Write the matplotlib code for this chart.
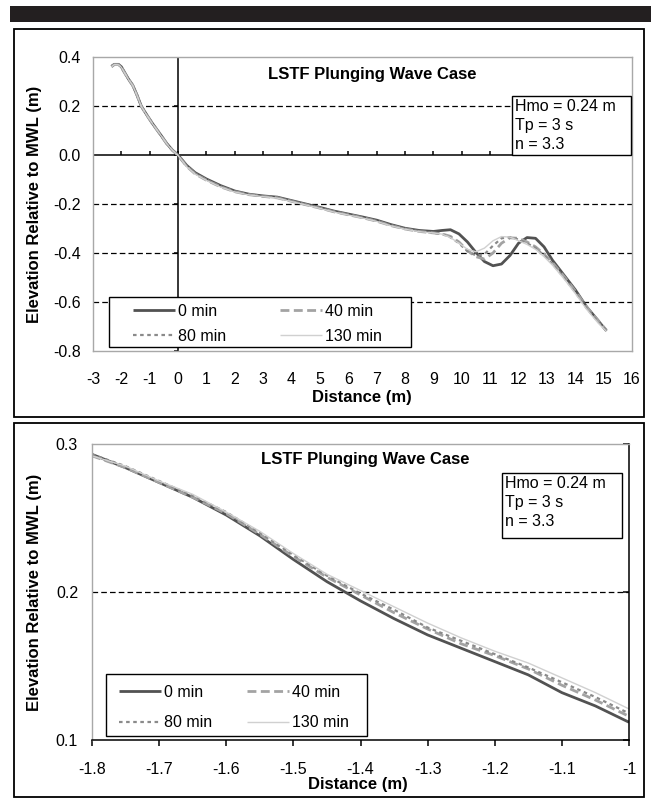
import numpy as np
import matplotlib
matplotlib.use("Agg")
from matplotlib import pyplot as plt
from matplotlib.patches import Rectangle

plt.rcParams['font.family'] = ['Liberation Sans', 'DejaVu Sans']

# --------- DATA ---------

series_names = ['0 min', '40 min', '80 min', '130 min']
series_colors = ['#525252', '#a3a3a3', '#8a8a8a', '#d0d0d0']
series_widths = [2.0, 2.0, 1.6, 1.0]
series_styles = ['-', (0, (3.2, 1.6)), (0, (1.6, 1.6)), '-']

# Full profile (top panel)
dist_full = [-2.35, -2.25, -2.1, -2.0, -1.9, -1.75, -1.6, -1.45, -1.3, -1.1, -0.9, -0.6, -0.4, -0.2,
             0.0, 0.3, 0.6, 1.0, 1.5, 2.0, 2.5, 3.0, 3.5, 4.0, 4.5, 5.0, 5.5, 6.0, 6.5, 7.0, 7.5,
             8.0, 8.5, 9.0, 9.3, 9.6, 9.9, 10.2, 10.5, 10.8, 11.1, 11.4, 11.7, 12.0, 12.3, 12.6,
             12.9, 13.2, 13.6, 14.0, 14.4, 14.8, 15.1]
elev_0 = [0.362, 0.370, 0.370, 0.360, 0.340, 0.310, 0.285, 0.245, 0.200, 0.163, 0.128, 0.080, 0.047, 0.020,
          0.000, -0.042, -0.072, -0.098, -0.125, -0.147, -0.160, -0.167, -0.172, -0.186, -0.200, -0.214, -0.229, -0.241, -0.253, -0.266, -0.284,
          -0.299, -0.308, -0.312, -0.308, -0.305, -0.322, -0.355, -0.398, -0.435, -0.452, -0.445, -0.410, -0.360, -0.337, -0.340,
          -0.375, -0.430, -0.490, -0.550, -0.620, -0.675, -0.718]
elev_40 = [0.360, 0.369, 0.369, 0.358, 0.338, 0.309, 0.284, 0.244, 0.199, 0.162, 0.127, 0.079, 0.046, 0.019,
           -0.002, -0.046, -0.077, -0.103, -0.130, -0.150, -0.162, -0.169, -0.175, -0.189, -0.203, -0.217, -0.232, -0.244, -0.256, -0.270, -0.288,
           -0.302, -0.312, -0.318, -0.322, -0.332, -0.355, -0.390, -0.415, -0.425, -0.400, -0.360, -0.338, -0.340, -0.355, -0.375,
           -0.405, -0.440, -0.495, -0.555, -0.620, -0.675, -0.715]
elev_80 = [0.361, 0.370, 0.369, 0.359, 0.339, 0.310, 0.285, 0.245, 0.200, 0.163, 0.128, 0.080, 0.047, 0.020,
           -0.001, -0.044, -0.075, -0.101, -0.128, -0.149, -0.161, -0.168, -0.174, -0.188, -0.202, -0.216, -0.231, -0.243, -0.255, -0.269, -0.287,
           -0.301, -0.311, -0.318, -0.322, -0.336, -0.360, -0.393, -0.410, -0.405, -0.370, -0.340, -0.335, -0.345, -0.360, -0.380,
           -0.410, -0.445, -0.500, -0.560, -0.625, -0.680, -0.716]
elev_130 = [0.360, 0.369, 0.368, 0.358, 0.338, 0.309, 0.284, 0.244, 0.199, 0.162, 0.127, 0.079, 0.046, 0.019,
            -0.002, -0.047, -0.078, -0.104, -0.131, -0.151, -0.163, -0.170, -0.176, -0.190, -0.204, -0.218, -0.233, -0.245, -0.257, -0.271, -0.289,
            -0.303, -0.313, -0.318, -0.323, -0.337, -0.360, -0.385, -0.395, -0.380, -0.350, -0.333, -0.335, -0.350, -0.365, -0.385,
            -0.415, -0.450, -0.505, -0.565, -0.630, -0.685, -0.720]

# Close-up (bottom panel)
dist_zoom = [-1.8, -1.75, -1.7, -1.65, -1.6, -1.55, -1.5, -1.45, -1.4, -1.35, -1.3, -1.25, -1.2, -1.15, -1.1, -1.05, -1.0]
zoom_0 = [0.293, 0.284, 0.274, 0.264, 0.252, 0.238, 0.222, 0.207, 0.194, 0.182, 0.171, 0.162, 0.153, 0.144, 0.132, 0.123, 0.112]
zoom_40 = [0.292, 0.284, 0.274, 0.264, 0.253, 0.239, 0.224, 0.210, 0.198, 0.186, 0.175, 0.165, 0.157, 0.148, 0.137, 0.127, 0.116]
zoom_80 = [0.293, 0.285, 0.275, 0.265, 0.254, 0.240, 0.225, 0.211, 0.199, 0.188, 0.176, 0.167, 0.158, 0.149, 0.139, 0.129, 0.118]
zoom_130 = [0.292, 0.285, 0.275, 0.266, 0.254, 0.241, 0.226, 0.212, 0.201, 0.190, 0.179, 0.169, 0.160, 0.152, 0.142, 0.132, 0.121]

full_ticks_x = list(range(-3, 17))
full_ticks_y = [-0.8, -0.6, -0.4, -0.2, 0.0, 0.2, 0.4]
zoom_ticks_x = [-1.8, -1.7, -1.6, -1.5, -1.4, -1.3, -1.2, -1.1, -1.0]
zoom_ticks_y = [0.1, 0.2, 0.3]

title = "LSTF Plunging Wave Case"
info = "Hmo = 0.24 m\nTp = 3 s\nn = 3.3"

# --------- FIGURE ---------

W, H = 651, 800
fig = plt.figure(figsize=(W / 100, H / 100), dpi=100)

def fx(px):
    return px / W

def fy(py):
    return 1 - py / H

def frect(x0, y0, x1, y1, ax=None, **kw):
    r = Rectangle((fx(x0), fy(y1)), fx(x1) - fx(x0), fy(y0) - fy(y1), transform=fig.transFigure,
                  clip_on=False, **kw)
    if ax is None:
        fig.patches.append(r)
    else:
        ax.add_patch(r)
    return r

# header bar and panel frames
frect(10, 6, 651, 22, facecolor='#231f20', edgecolor='none')
frect(14, 29, 644, 417, fill=False, edgecolor='black', lw=1.3)
frect(14, 423, 644, 797, fill=False, edgecolor='black', lw=1.3)

grid_kw = dict(color='black', lw=0.9, ls=(0, (4.5, 2.5)))
gray = '#a8a8a8'
FS = 11.5

def draw_series(ax, x, ys):
    lines = []
    for y, name, c, lw, ls in zip(ys, series_names, series_colors, series_widths, series_styles):
        ln, = ax.plot(x, y, color=c, lw=lw, ls=ls, label=name, solid_capstyle='butt')
        lines.append(ln)
    return lines

def add_legend(ax, lines, px, py, colsp, labsp):
    order = [0, 2, 1, 3]
    leg = ax.legend([lines[i] for i in order], [series_names[i] for i in order], ncol=2, frameon=False,
                    loc='upper left', bbox_to_anchor=(fx(px), fy(py)), bbox_transform=fig.transFigure,
                    borderpad=0, borderaxespad=0, fontsize=FS, handlelength=2.6, handletextpad=0.2,
                    columnspacing=colsp, labelspacing=labsp)
    leg.set_zorder(6)
    return leg

# --------- TOP PANEL ---------
ax1 = fig.add_axes([fx(93), fy(351), fx(632) - fx(93), fy(57) - fy(351)])
ax1.set_xlim(-3, 16)
ax1.set_ylim(-0.8, 0.4)
for y in [0.2, -0.2, -0.4, -0.6]:
    ax1.axhline(y, **grid_kw)
ax1.axhline(0, color='black', lw=1.1)
ax1.axvline(0, color='black', lw=1.1)
ax1.vlines(full_ticks_x, 0, 0.018, color='black', lw=1.1)
ax1.hlines(full_ticks_y, -0.15, 0, color='black', lw=1.1)
lines1 = draw_series(ax1, dist_full, [elev_0, elev_40, elev_80, elev_130])
ax1.set_xticks(full_ticks_x)
ax1.set_xticklabels([str(t) for t in full_ticks_x])
ax1.set_yticks(full_ticks_y)
ax1.set_yticklabels(['%.1f' % t for t in full_ticks_y])
ax1.tick_params(length=0, labelsize=FS)
ax1.tick_params(axis='x', pad=15)
ax1.tick_params(axis='y', pad=9)
for s in ax1.spines.values():
    s.set_color(gray)
    s.set_linewidth(1.0)
ax1.text(0.518, 0.94, title, transform=ax1.transAxes, ha='center', va='center', fontsize=12, fontweight='bold')
add_legend(ax1, lines1, 133, 304, 3.4, 0.6)
frect(109, 297, 411, 347, ax=ax1, facecolor='white', edgecolor='black', lw=1.0, zorder=5.5)
frect(512, 96, 631, 155, ax=ax1, facecolor='white', edgecolor='black', lw=1.0, zorder=5.5)
fig.text(fx(515), fy(99), info, ha='left', va='top', fontsize=FS, linespacing=1.32, zorder=6)
fig.text(fx(362), fy(397), "Distance (m)", ha='center', va='center', fontsize=12, fontweight='bold')
fig.text(fx(35), fy(204), "Elevation Relative to MWL (m)", ha='center', va='center', rotation=90,
         fontsize=12, fontweight='bold')

# --------- BOTTOM PANEL ---------
ax2 = fig.add_axes([fx(92), fy(740), fx(629) - fx(92), fy(444) - fy(740)])
ax2.set_xlim(-1.8, -1.0)
ax2.set_ylim(0.1, 0.3)
ax2.axhline(0.2, **grid_kw)
lines2 = draw_series(ax2, dist_zoom, [zoom_0, zoom_40, zoom_80, zoom_130])
ax2.set_xticks(zoom_ticks_x)
ax2.set_xticklabels(['-1' if t == -1.0 else '%.1f' % t for t in zoom_ticks_x])
ax2.set_yticks(zoom_ticks_y)
ax2.set_yticklabels(['%.1f' % t for t in zoom_ticks_y])
ax2.tick_params(axis='x', direction='out', length=4, width=1.1, color='black', labelsize=FS, pad=12)
ax2.tick_params(axis='y', left=False, right=True, labelleft=True, labelright=False, direction='in',
                length=4, width=1.1, color='black', labelsize=FS, pad=10)
for name, s in ax2.spines.items():
    if name in ('bottom', 'right'):
        s.set_color('black')
        s.set_linewidth(1.1)
    else:
        s.set_color(gray)
        s.set_linewidth(1.0)
ax2.text(0.508, 0.947, title, transform=ax2.transAxes, ha='center', va='center', fontsize=12, fontweight='bold')
add_legend(ax2, lines2, 119, 685, 2.2, 0.95)
frect(106, 674, 367, 736, ax=ax2, facecolor='white', edgecolor='black', lw=1.0, zorder=5.5)
frect(502, 473, 622, 538, ax=ax2, facecolor='white', edgecolor='black', lw=1.0, zorder=5.5)
fig.text(fx(505), fy(476), info, ha='left', va='top', fontsize=FS, linespacing=1.32, zorder=6)
fig.text(fx(358), fy(784), "Distance (m)", ha='center', va='center', fontsize=12, fontweight='bold')
fig.text(fx(35), fy(592), "Elevation Relative to MWL (m)", ha='center', va='center', rotation=90,
         fontsize=12, fontweight='bold')

fig.savefig("out.png", dpi=100)
